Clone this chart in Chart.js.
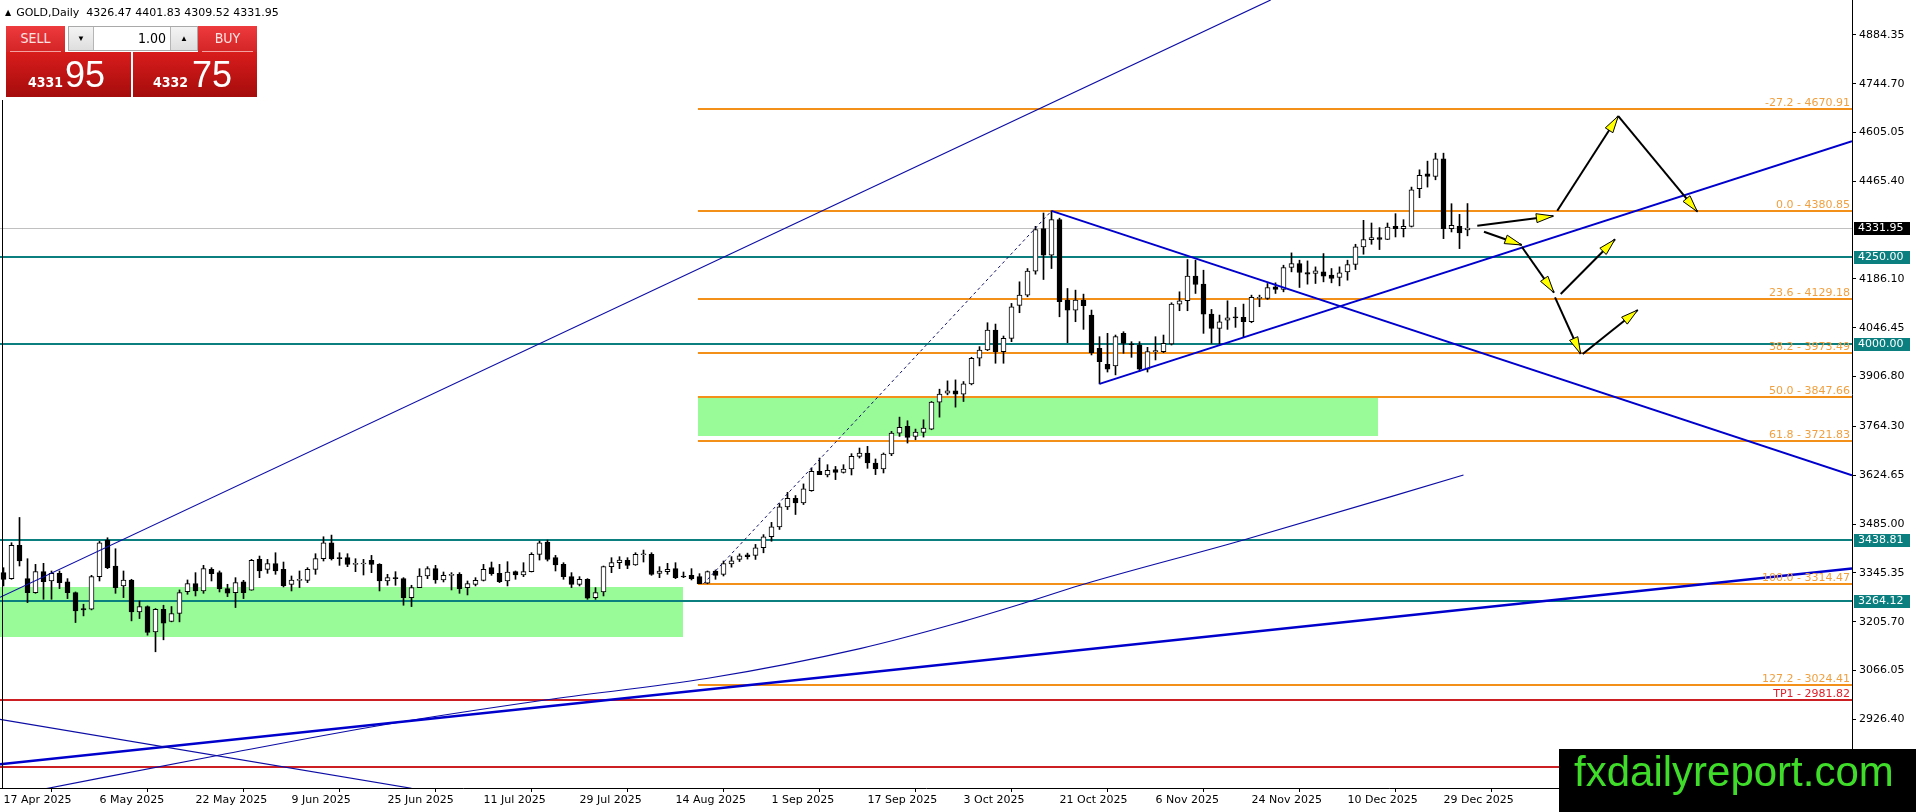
<!DOCTYPE html>
<html>
<head>
<meta charset="utf-8">
<script src="https://cdn.jsdelivr.net/npm/chart.js@4.4.1/dist/chart.umd.min.js"></script>
<style>
body { margin: 0; background: #fff; }
#wrap { position: relative; width: 1916px; height: 812px; overflow: hidden; }
#chart { position: absolute; left: 0; top: 0; }
.ov { position: absolute; }
#hdr { left: 5px; top: 6px; font: 11px 'DejaVu Sans'; color: #000; white-space: nowrap; line-height: 14px; }
#hdr .tri { font-size: 8px; margin-right: 5px; vertical-align: 1px; }
.btn { top: 26px; width: 59px; height: 26px; background: linear-gradient(#ee3b3d, #d32426); color: #ffe3e3;
       font: 14px 'DejaVu Sans Condensed', 'DejaVu Sans'; text-align: center; line-height: 25px; }
.btn::after { content: ''; position: absolute; left: 4px; right: 4px; bottom: 0; height: 1px; background: #f4a0a0; }
.sell { left: 6px; }
.buy { left: 198px; }
.spin { left: 68px; top: 26px; width: 128px; height: 23px; border: 1px solid #a9a9a9; background: #fff; }
.spin .dn, .spin .up { position: absolute; top: 0; width: 24px; height: 23px; background: linear-gradient(#f4f4f4, #dedede);
       font-size: 8px; text-align: center; line-height: 23px; color: #000; }
.spin .dn { left: 0; border-right: 1px solid #b5b5b5; }
.spin .up { right: 0; width: 26px; border-left: 1px solid #b5b5b5; }
.spin .lot { position: absolute; left: 25px; width: 72px; top: 0; height: 23px; text-align: right;
       font: 14px 'DejaVu Sans Condensed', 'DejaVu Sans'; line-height: 23px; color: #000; }
.quote { top: 52px; height: 45px; background: linear-gradient(#d91c1c, #a50c0c); color: #fff; }
.qs { left: 6px; width: 125px; }
.qb { left: 133px; width: 124px; }
.quote .sm { position: absolute; bottom: 8px; font: bold 14px 'DejaVu Sans Condensed', 'DejaVu Sans'; line-height: 14px; }
.quote .lg { position: absolute; left: 59px; bottom: 4px; font: 36px 'Liberation Sans'; line-height: 36px; }
#mark { left: 1559px; top: 749px; width: 357px; height: 63px; background: #000; }
#mark span { position: absolute; left: 15px; top: 2px; font: 42px 'Liberation Sans'; line-height: 42px; color: #3fdc2a; white-space: nowrap; }
</style>
</head>
<body>
<div id="wrap">
  <canvas id="chart" width="1916" height="812"></canvas>
  <div class="ov" id="hdr"><span class="tri">&#9650;</span>GOLD,Daily&nbsp; 4326.47 4401.83 4309.52 4331.95</div>
  <div class="ov btn sell">SELL</div>
  <div class="ov spin"><div class="dn">&#9660;</div><div class="lot">1.00</div><div class="up">&#9650;</div></div>
  <div class="ov btn buy">BUY</div>
  <div class="ov quote qs"><span class="sm" style="left:22px">4331</span><span class="lg">95</span></div>
  <div class="ov quote qb"><span class="sm" style="left:20px">4332</span><span class="lg">75</span></div>
  <div class="ov" id="mark"><span>fxdailyreport.com</span></div>
</div>
<script>
// daily candles, bar 0 = 17 Apr 2025
const barOpen = [
  3346.2, 3329.1, 3424.1, 3329.1, 3289.1, 3349.0, 3322.4, 3344.3, 3319.6, 3289.1,
  3243.5, 3241.6, 3334.8, 3439.4, 3365.2, 3308.2, 3325.3, 3234.0, 3249.2, 3177.0,
  3241.6, 3206.4, 3229.3, 3292.0, 3314.8, 3293.9, 3355.7, 3346.2, 3300.6, 3289.1,
  3319.6, 3295.8, 3384.2, 3355.7, 3371.9, 3355.7, 3312.9, 3324.3, 3324.3, 3355.7,
  3386.1, 3431.8, 3389.0, 3389.0, 3370.0, 3370.9, 3381.4, 3370.0, 3322.4, 3331.9,
  3329.1, 3274.9, 3303.4, 3336.7, 3357.6, 3325.3, 3338.6, 3341.4, 3303.4, 3312.9,
  3324.3, 3360.4, 3344.3, 3322.4, 3349.0, 3339.5, 3349.0, 3398.5, 3433.7, 3389.0,
  3370.0, 3334.8, 3312.9, 3327.2, 3274.9, 3291.0, 3363.3, 3374.7, 3381.4, 3368.1,
  3397.5, 3398.5, 3344.3, 3349.0, 3357.6, 3335.7, 3338.6, 3334.8, 3315.8, 3350.9,
  3341.4, 3371.0, 3384.0, 3397.0, 3395.6, 3417.4, 3448.8, 3477.3, 3534.3, 3559.1,
  3545.8, 3581.0, 3636.0, 3625.6, 3640.8, 3633.2, 3642.7, 3678.8, 3688.4, 3659.8,
  3642.7, 3685.5, 3745.4, 3764.4, 3735.9, 3747.3, 3756.8, 3833.8, 3859.5, 3866.1,
  3856.6, 3886.1, 3959.3, 3983.1, 4040.1, 3978.3, 4016.4, 4110.5, 4140.0, 4208.4,
  4330.1, 4254.0, 4355.7, 4125.7, 4097.2, 4125.7, 4082.9, 3987.8, 3942.2, 3937.4,
  4030.6, 4000.0, 3997.3, 3927.9, 3978.0, 3978.3, 4000.2, 4114.3, 4123.8, 4194.1,
  4171.3, 4085.7, 4044.9, 4068.6, 4077.0, 4076.2, 4063.9, 4130.4, 4130.4, 4163.7,
  4156.1, 4218.9, 4230.2, 4204.6, 4201.7, 4206.5, 4197.0, 4190.3, 4206.5, 4227.4,
  4277.8, 4298.7, 4304.4, 4299.6, 4336.7, 4330.1, 4336.7, 4444.1, 4486.9, 4479.3,
  4529.7, 4330.1, 4336.7, 4326.47
];
const barHigh = [
  3360.4, 3431.8, 3504.0, 3386.1, 3369.9, 3372.8, 3351.0, 3351.0, 3329.1, 3291.0,
  3255.9, 3338.6, 3435.6, 3446.0, 3414.6, 3351.0, 3327.2, 3265.4, 3251.1, 3243.5,
  3253.0, 3249.2, 3296.7, 3325.3, 3346.2, 3367.1, 3360.4, 3351.0, 3312.9, 3331.9,
  3324.3, 3384.2, 3393.7, 3384.2, 3403.2, 3376.6, 3336.7, 3351.0, 3360.4, 3400.4,
  3448.9, 3453.6, 3403.2, 3400.4, 3386.1, 3384.2, 3395.6, 3371.9, 3341.4, 3349.0,
  3331.9, 3310.1, 3357.6, 3363.3, 3367.1, 3348.1, 3346.2, 3346.2, 3322.4, 3331.9,
  3369.9, 3376.6, 3369.9, 3377.6, 3351.0, 3374.7, 3403.2, 3436.5, 3439.4, 3395.6,
  3374.7, 3346.2, 3334.8, 3329.1, 3303.4, 3365.2, 3389.0, 3391.8, 3389.0, 3403.2,
  3410.8, 3403.2, 3363.3, 3372.8, 3374.7, 3348.1, 3357.6, 3343.3, 3351.0, 3353.8,
  3379.5, 3392.0, 3400.0, 3402.0, 3427.0, 3455.0, 3490.0, 3543.9, 3576.0, 3566.7,
  3600.0, 3645.6, 3674.0, 3655.0, 3650.0, 3655.0, 3686.5, 3702.6, 3707.4, 3671.3,
  3688.4, 3750.2, 3791.0, 3780.6, 3756.8, 3783.4, 3835.7, 3870.9, 3894.7, 3897.5,
  3892.8, 3962.2, 3992.6, 4061.0, 4057.2, 4023.0, 4116.2, 4178.0, 4216.0, 4336.7,
  4374.8, 4380.85, 4360.0, 4159.0, 4154.2, 4142.8, 4097.2, 4021.1, 4030.6, 4025.8,
  4035.3, 4006.8, 4006.8, 3990.7, 4021.0, 4025.8, 4118.1, 4149.4, 4241.7, 4239.8,
  4211.2, 4099.0, 4082.9, 4123.8, 4104.8, 4114.3, 4139.9, 4139.9, 4173.2, 4175.1,
  4225.5, 4260.7, 4239.8, 4237.8, 4220.7, 4258.8, 4216.0, 4220.7, 4239.8, 4285.4,
  4353.8, 4346.2, 4332.9, 4346.2, 4372.9, 4355.7, 4448.9, 4498.3, 4523.1, 4545.9,
  4545.9, 4401.4, 4370.9, 4401.83
];
const barLow = [
  3308.2, 3327.2, 3365.2, 3260.6, 3287.2, 3270.1, 3270.1, 3300.6, 3272.0, 3203.6,
  3222.6, 3239.7, 3322.4, 3357.6, 3287.2, 3274.9, 3208.3, 3215.0, 3167.5, 3119.9,
  3154.1, 3205.5, 3205.5, 3284.4, 3279.6, 3287.2, 3322.4, 3291.0, 3277.7, 3246.4,
  3272.0, 3295.8, 3331.9, 3344.3, 3341.4, 3305.3, 3293.9, 3303.4, 3317.7, 3341.4,
  3379.5, 3382.3, 3367.1, 3363.3, 3349.0, 3339.5, 3346.2, 3293.9, 3310.1, 3310.1,
  3253.0, 3249.2, 3303.4, 3329.1, 3315.8, 3319.6, 3296.7, 3287.2, 3282.5, 3308.2,
  3322.4, 3338.6, 3317.7, 3308.2, 3327.2, 3334.8, 3348.1, 3382.3, 3379.5, 3351.0,
  3327.2, 3303.4, 3308.2, 3270.1, 3270.0, 3279.6, 3346.2, 3357.6, 3357.6, 3367.1,
  3376.6, 3338.6, 3331.9, 3341.4, 3329.1, 3331.9, 3325.3, 3314.8, 3314.47, 3327.2,
  3336.7, 3362.0, 3378.0, 3385.0, 3384.0, 3403.0, 3436.0, 3469.7, 3526.7, 3512.5,
  3541.0, 3579.0, 3626.6, 3620.0, 3612.3, 3631.0, 3625.6, 3674.0, 3644.6, 3626.6,
  3631.3, 3680.8, 3736.0, 3716.9, 3726.4, 3734.0, 3754.9, 3791.0, 3854.7, 3819.6,
  3835.7, 3883.3, 3937.5, 3981.2, 3945.1, 3945.1, 4006.8, 4089.6, 4135.2, 4199.8,
  4184.6, 4216.0, 4078.0, 4004.0, 4063.9, 4042.0, 3968.8, 3886.1, 3920.0, 3911.8,
  3973.6, 3962.0, 3922.0, 3920.0, 3954.5, 3975.5, 3997.3, 4095.3, 4095.3, 4144.7,
  4030.6, 4002.1, 4000.2, 4042.0, 4047.7, 4021.1, 4061.0, 4106.7, 4127.6, 4144.7,
  4149.4, 4206.5, 4161.8, 4171.3, 4173.2, 4177.9, 4175.1, 4166.5, 4182.7, 4213.1,
  4256.9, 4285.4, 4270.2, 4298.7, 4306.3, 4306.3, 4334.8, 4418.5, 4448.9, 4469.8,
  4301.5, 4320.6, 4273.0, 4309.52
];
const barClose = [
  3327.2, 3424.1, 3379.5, 3289.1, 3349.0, 3320.5, 3344.3, 3317.7, 3289.1, 3236.9,
  3239.7, 3334.8, 3431.8, 3360.4, 3303.4, 3325.3, 3234.0, 3249.2, 3175.1, 3241.6,
  3201.7, 3229.3, 3289.1, 3314.8, 3293.9, 3357.6, 3343.3, 3300.6, 3287.2, 3317.7,
  3289.1, 3381.4, 3351.0, 3371.9, 3351.0, 3308.2, 3325.3, 3326.2, 3355.7, 3386.1,
  3431.8, 3386.1, 3386.1, 3370.0, 3372.8, 3372.8, 3370.0, 3322.4, 3331.9, 3329.1,
  3274.9, 3303.4, 3336.7, 3357.6, 3325.3, 3338.6, 3340.5, 3300.6, 3314.8, 3324.3,
  3355.7, 3343.3, 3320.5, 3348.1, 3339.5, 3349.0, 3398.5, 3431.8, 3384.2, 3368.1,
  3334.8, 3312.9, 3327.2, 3273.0, 3289.1, 3363.3, 3374.7, 3382.3, 3367.1, 3398.5,
  3399.4, 3341.4, 3351.0, 3355.7, 3331.9, 3333.8, 3329.1, 3314.8, 3349.0, 3338.6,
  3371.9, 3380.0, 3394.0, 3392.0, 3417.4, 3448.8, 3477.3, 3534.3, 3559.1, 3545.8,
  3585.7, 3636.0, 3626.6, 3638.9, 3633.2, 3642.7, 3678.8, 3688.4, 3659.8, 3642.7,
  3685.5, 3745.4, 3761.6, 3733.0, 3748.3, 3759.7, 3833.8, 3856.6, 3866.1, 3856.6,
  3886.1, 3959.3, 3983.1, 4040.1, 3978.3, 4016.4, 4106.7, 4140.0, 4208.4, 4327.2,
  4254.0, 4355.7, 4121.0, 4097.2, 4125.7, 4109.5, 3975.5, 3949.8, 3927.9, 4021.1,
  4002.1, 3998.0, 3927.9, 3978.3, 3981.0, 4002.1, 4114.3, 4123.8, 4194.1, 4170.4,
  4085.7, 4044.9, 4063.9, 4075.3, 4075.0, 4063.9, 4133.3, 4133.3, 4161.8, 4156.1,
  4218.9, 4230.2, 4204.6, 4199.8, 4209.3, 4194.1, 4187.5, 4203.6, 4227.4, 4277.8,
  4298.7, 4304.4, 4299.6, 4334.8, 4330.1, 4336.7, 4441.3, 4482.2, 4479.3, 4529.7,
  4330.1, 4339.6, 4317.7, 4331.95
];

const dateTickBars = [0, 12, 24, 36, 48, 60, 72, 84, 96, 108, 120, 132, 144, 156, 168, 180];
const dateLabels = ['17 Apr 2025', '6 May 2025', '22 May 2025', '9 Jun 2025', '25 Jun 2025', '11 Jul 2025',
  '29 Jul 2025', '14 Aug 2025', '1 Sep 2025', '17 Sep 2025', '3 Oct 2025', '21 Oct 2025',
  '6 Nov 2025', '24 Nov 2025', '10 Dec 2025', '29 Dec 2025'];
const priceTicks = [4884.35, 4744.70, 4605.05, 4465.40, 4186.10, 4046.45, 3906.80, 3764.30,
  3624.65, 3485.00, 3345.35, 3205.70, 3066.05, 2926.40];

const currentPrice = 4331.95;
const supportLevels = [4250.00, 4000.00, 3438.81, 3264.12];
const fibRatios = ['-27.2', '0.0', '23.6', '38.2', '50.0', '61.8', '100.0', '127.2'];
const fibLevels = [4670.91, 4380.85, 4129.18, 3973.49, 3847.66, 3721.83, 3314.47, 3024.41];
const fibStartBar = 86.8;
const targetNames = ['TP1', ''];
const targetLevels = [2981.82, 2790.0];

const zoneFromBar = [-0.44, 86.8];
const zoneToBar = [84.9, 171.8];
const zoneTop = [3306.0, 3847.66];
const zoneBottom = [3163.0, 3738.0];

// trend lines as [bar, price] pairs
const channelLine = [[-0.44, 3275.7], [158.4, 4984.0]];
const risingBaseLine = [[-0.44, 2798.1], [231.06, 3358.1]];
const fallingThinLine = [[-0.44, 2926.8], [51.0, 2729.5]];
const fallingWedgeLine = [[131, 4380.85], [231.06, 3624.6]];
const risingWedgeLine = [[137, 3886.1], [231.06, 4580.0]];
const fibDiagonal = [[87.5, 3314.47], [131, 4380.85]];
const arcBars = [-0.44, 5.54, 27.06, 47.4, 67.7, 88.06, 107.2, 119.15, 127.5, 134.7, 155.0, 182.5];
const arcPrices = [2702.9, 2729.5, 2824.7, 2910.5, 2982.0, 3044.1, 3129.8, 3201.4, 3258.6, 3310.9, 3439.6, 3625.5];

// scenario arrows
const arrowFromBar = [184.22, 194.22, 201.85, 185.06, 189.78, 194.65, 193.94, 197.4];
const arrowFromPrice = [4338.5, 4381.4, 4652.2, 4321.3, 4278.4, 4143.2, 4133.7, 3971.6];
const arrowToBar = [193.73, 201.85, 211.73, 189.78, 193.81, 201.44, 197.15, 204.28];
const arrowToPrice = [4366.2, 4652.2, 4378.5, 4283.3, 4146.9, 4299.6, 3971.6, 4097.4];

const xMin = -0.4375, xMax = 231.0625;
const yMin = 2730.3, yMax = 4984.0;

const TEAL = '#0b7f7f', ORANGE = '#f39019', ORANGE_TXT = '#f0a040', RED = '#cc1f24', RED_TXT = '#e0202a';
const BLUE = '#0000cd', THIN_BLUE = '#0c0ca6';
const axisFont = '11px "DejaVu Sans"';

const idx = barOpen.map((_, i) => i);
const toPts = pairs => pairs.map(p => ({ x: p[0], y: p[1] }));

function lineSet(pairs, color, width, extra) {
    return Object.assign({
        type: 'line', data: toPts(pairs), borderColor: color, borderWidth: width,
        pointRadius: 0, fill: false, tension: 0, order: 2
    }, extra || {});
}

const mtObjects = {
    id: 'mtObjects',
    beforeDatasetsDraw(chart) {
        const { ctx, chartArea: a, scales: { x, y } } = chart;
        ctx.save();
        ctx.beginPath();
        ctx.rect(a.left, a.top, a.right - a.left, a.bottom - a.top);
        ctx.clip();

        ctx.fillStyle = '#98fb98';
        zoneTop.forEach((top, i) => {
            const x0 = Math.round(x.getPixelForValue(zoneFromBar[i]));
            const x1 = Math.round(x.getPixelForValue(zoneToBar[i]));
            const y0 = Math.round(y.getPixelForValue(top));
            const y1 = Math.round(y.getPixelForValue(zoneBottom[i]));
            ctx.fillRect(x0, y0, x1 - x0, y1 - y0);
        });

        const hline = (price, fromBar, color, width) => {
            const py = Math.round(y.getPixelForValue(price)) + (width % 2 ? 0.5 : 0);
            ctx.strokeStyle = color;
            ctx.lineWidth = width;
            ctx.beginPath();
            ctx.moveTo(x.getPixelForValue(fromBar), py);
            ctx.lineTo(a.right, py);
            ctx.stroke();
        };
        hline(currentPrice, xMin, '#c0c0c0', 1);
        fibLevels.forEach(v => hline(v, fibStartBar, ORANGE, 2));
        supportLevels.forEach(v => hline(v, xMin, TEAL, 2));
        targetLevels.forEach(v => hline(v, xMin, RED, 2));
        ctx.restore();
    },
    afterDatasetsDraw(chart) {
        const { ctx, chartArea: a, scales: { x, y } } = chart;
        ctx.save();
        ctx.beginPath();
        ctx.rect(a.left, a.top, a.right - a.left, a.bottom - a.top);
        ctx.clip();

        // arrows
        arrowFromBar.forEach((b, i) => {
            const x0 = x.getPixelForValue(b), y0 = y.getPixelForValue(arrowFromPrice[i]);
            const x1 = x.getPixelForValue(arrowToBar[i]), y1 = y.getPixelForValue(arrowToPrice[i]);
            ctx.strokeStyle = '#000';
            ctx.lineWidth = 2;
            ctx.beginPath();
            ctx.moveTo(x0, y0);
            ctx.lineTo(x1, y1);
            ctx.stroke();
            const ang = Math.atan2(y1 - y0, x1 - x0);
            const len = 17, half = 4.5;
            const bx = x1 - len * Math.cos(ang), by = y1 - len * Math.sin(ang);
            ctx.beginPath();
            ctx.moveTo(x1, y1);
            ctx.lineTo(bx + half * Math.sin(ang), by - half * Math.cos(ang));
            ctx.lineTo(bx - half * Math.sin(ang), by + half * Math.cos(ang));
            ctx.closePath();
            ctx.fillStyle = '#ffff00';
            ctx.fill();
            ctx.lineWidth = 1;
            ctx.stroke();
        });

        // level captions
        ctx.font = axisFont;
        ctx.textAlign = 'right';
        ctx.textBaseline = 'alphabetic';
        ctx.fillStyle = ORANGE_TXT;
        fibLevels.forEach((v, i) => {
            ctx.fillText(fibRatios[i] + ' - ' + v.toFixed(2), a.right - 2, Math.round(y.getPixelForValue(v)) - 3);
        });
        ctx.fillStyle = RED_TXT;
        targetLevels.forEach((v, i) => {
            if (targetNames[i]) {
                ctx.fillText(targetNames[i] + ' - ' + v.toFixed(2), a.right - 2, Math.round(y.getPixelForValue(v)) - 3);
            }
        });
        ctx.restore();
    },
    afterDraw(chart) {
        const { ctx, chartArea: a, scales: { y } } = chart;
        ctx.save();
        // left frame
        ctx.strokeStyle = '#000';
        ctx.lineWidth = 1;
        ctx.beginPath();
        ctx.moveTo(2.5, 100);
        ctx.lineTo(2.5, a.bottom);
        ctx.stroke();

        const tag = (price, bg) => {
            const py = Math.round(y.getPixelForValue(price));
            ctx.fillStyle = bg;
            ctx.fillRect(a.right + 2, py - 6, 56, 13);
            ctx.fillStyle = '#fff';
            ctx.font = axisFont;
            ctx.textAlign = 'left';
            ctx.textBaseline = 'middle';
            ctx.fillText(price.toFixed(2), a.right + 6, py + 0.5);
        };
        supportLevels.forEach(v => tag(v, TEAL));
        tag(currentPrice, '#000');
        ctx.restore();
    }
};

const chart = new Chart(document.getElementById('chart'), {
    type: 'bar',
    data: {
        datasets: [
            {
                label: 'wick', data: idx.map(i => ({ x: i, y: [barLow[i], barHigh[i]] })),
                backgroundColor: '#000', borderWidth: 0, barThickness: 1, grouped: false, order: 5
            },
            {
                label: 'body', data: idx.map(i => ({ x: i, y: [barOpen[i], barClose[i]] })),
                backgroundColor: idx.map(i => barClose[i] >= barOpen[i] ? '#fff' : '#000'),
                borderColor: '#000', borderWidth: 1, borderSkipped: false, barThickness: 5,
                minBarLength: 1, grouped: false, order: 4
            },
            lineSet(channelLine, THIN_BLUE, 1.2),
            lineSet(fallingThinLine, THIN_BLUE, 1.2),
            lineSet(risingBaseLine, BLUE, 2.5),
            lineSet(fallingWedgeLine, BLUE, 2),
            lineSet(risingWedgeLine, BLUE, 2),
            lineSet(fibDiagonal, '#10106a', 1, { borderDash: [3, 3] }),
            {
                type: 'line', data: arcBars.map((b, i) => ({ x: b, y: arcPrices[i] })),
                borderColor: THIN_BLUE, borderWidth: 1.2, pointRadius: 0, fill: false,
                cubicInterpolationMode: 'monotone', order: 2
            }
        ]
    },
    options: {
        responsive: false,
        animation: false,
        devicePixelRatio: 1,
        layout: { padding: 0 },
        plugins: { legend: { display: false }, tooltip: { enabled: false } },
        scales: {
            x: {
                type: 'linear', min: xMin, max: xMax, offset: false, bounds: 'data',
                afterBuildTicks: s => { s.ticks = dateTickBars.map(v => ({ value: v })); },
                afterFit: s => { s.height = 24; s.paddingLeft = 0; s.paddingRight = 0; },
                ticks: {
                    autoSkip: false, maxRotation: 0, minRotation: 0, align: 'start', padding: 2,
                    color: '#000', font: { family: 'DejaVu Sans', size: 11 },
                    callback: (v, i) => dateLabels[i]
                },
                grid: { drawOnChartArea: false, drawTicks: true, tickLength: 4, color: '#000' },
                border: { display: true, color: '#000', width: 1 }
            },
            y: {
                type: 'linear', position: 'right', min: yMin, max: yMax, bounds: 'data',
                afterBuildTicks: s => { s.ticks = priceTicks.map(v => ({ value: v })); },
                afterFit: s => { s.width = 64; s.paddingTop = 0; s.paddingBottom = 0; },
                ticks: {
                    padding: 3, color: '#000', font: { family: 'DejaVu Sans', size: 11 },
                    callback: v => Number(v).toFixed(2)
                },
                grid: { drawOnChartArea: false, drawTicks: true, tickLength: 4, color: '#000' },
                border: { display: true, color: '#000', width: 1 }
            }
        }
    },
    plugins: [mtObjects]
});
</script>
</body>
</html>
